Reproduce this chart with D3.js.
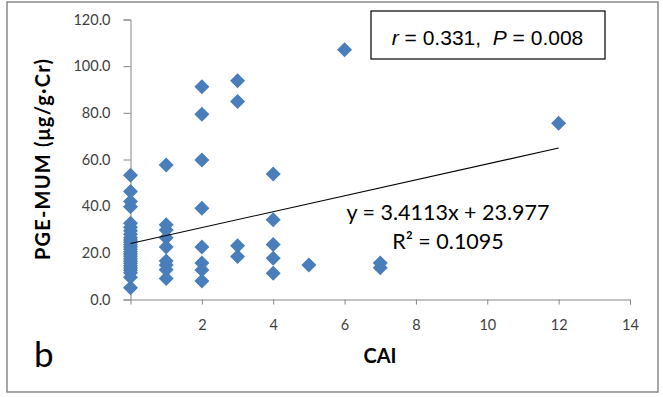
<!DOCTYPE html>
<html><head><meta charset="utf-8">
<script src="https://cdn.jsdelivr.net/npm/d3@7"></script>
<style>body{margin:0;background:#fff}</style>
</head><body><svg id="c" width="663" height="397"></svg>
<script>
// CAI (x) and PGE-MUM (y) values
const caiValues = [
  0,0,0,0,0,0,0,0,0,0,0,0,0,0,0,0,0,0,0,0,0,0,0,0,0,0,
  1,1,1,1,1,1,1,1,1,
  2,2,2,2,2,2,2,2,
  3,3,3,3,
  4,4,4,4,4,
  5,6,7,7,12
];
const pgeValues = [
  53.3,46.3,42.0,39.8,32.7,31.0,29.5,28.0,26.5,25.5,24.5,23.5,22.5,21.5,20.5,19.5,18.5,17.5,16.5,15.5,14.5,13.5,12.5,11.5,9.5,5.0,
  57.6,32.0,29.8,26.5,22.5,16.5,14.8,12.8,9.0,
  91.2,79.4,59.8,39.1,22.5,15.6,12.6,7.9,
  93.8,84.9,23.0,18.4,
  53.8,34.2,23.6,17.7,11.2,
  14.8,107.0,15.6,13.6,75.5
];
const xTicks = [2,4,6,8,10,12,14];
const yTicks = [0,20,40,60,80,100,120];
const slope = 3.4113, intercept = 23.977;
const eqText = "y = 3.4113x + 23.977";
const r2Text = "R\u00b2 = 0.1095";

const svg = d3.select("#c");
svg.append("rect").attr("x",7).attr("y",2).attr("width",651).attr("height",390)
  .attr("fill","#fff").attr("stroke","#898989").attr("stroke-width",1.5);

const x = d3.scaleLinear().domain([0,14]).range([130.5,630]);
const y = d3.scaleLinear().domain([0,120]).range([299.5,19.5]);

const font = "Lato, 'Open Sans', sans-serif";
const tickColor = "#404040";

// y axis
const ya = svg.append("g").attr("transform","translate(130.5,0)")
  .call(d3.axisLeft(y).tickValues(yTicks).tickSize(7).tickFormat(d3.format(".1f")));
ya.select(".domain").attr("stroke","#868686");
ya.selectAll(".tick line").attr("stroke","#868686");
ya.selectAll("text").attr("font-family",font).attr("font-size",14.5).attr("fill",tickColor).attr("x",-20);

// x axis
const xa = svg.append("g").attr("transform","translate(0,299.5)")
  .call(d3.axisBottom(x).tickValues(xTicks).tickSize(5).tickFormat(d3.format("d")));
xa.select(".domain").attr("stroke","#868686");
xa.selectAll(".tick line").attr("stroke","#868686");
xa.selectAll("text").attr("font-family",font).attr("font-size",14.5).attr("fill",tickColor).attr("y",20);

// points
const pts = caiValues.map((c,i)=>({c, v:pgeValues[i]}));
svg.append("g").selectAll("path").data(pts).join("path")
  .attr("d","M0,-7.5L7.5,0L0,7.5L-7.5,0Z")
  .attr("transform",d=>`translate(${x(d.c)},${y(d.v)})`)
  .attr("fill","#4a7ebb");

// trend line
svg.append("line")
  .attr("x1",x(0)).attr("y1",y(intercept))
  .attr("x2",x(12)).attr("y2",y(intercept+slope*12))
  .attr("stroke","#000").attr("stroke-width",1.1);

// equation
svg.append("text").attr("x",448).attr("y",219.5).attr("text-anchor","middle")
  .attr("font-family",font).attr("font-size",21.5).attr("fill","#000").text(eqText);
svg.append("text").attr("x",448).attr("y",248.5).attr("text-anchor","middle")
  .attr("font-family",font).attr("font-size",21.5).attr("fill","#000").text(r2Text);

// stats box
svg.append("rect").attr("x",371).attr("y",11).attr("width",234).attr("height",48)
  .attr("fill","#fff").attr("stroke","#000").attr("stroke-width",1.2);
const t = svg.append("text").attr("x",487.5).attr("y",45).attr("text-anchor","middle")
  .attr("font-family","'Liberation Sans', Arial, sans-serif").attr("font-size",21).attr("fill","#000")
  .attr("xml:space","preserve").style("white-space","pre");
t.append("tspan").attr("font-style","italic").text("r");
t.append("tspan").text(" = 0.331,  ");
t.append("tspan").attr("font-style","italic").text("P");
t.append("tspan").text(" = 0.008");

// axis titles
svg.append("text").attr("x",380).attr("y",363).attr("text-anchor","middle")
  .attr("font-family",font).attr("font-weight","bold").attr("font-size",20).attr("fill","#000").text("CAI");
svg.append("text").attr("transform","translate(50,159) rotate(-90)").attr("text-anchor","middle")
  .attr("font-family",font).attr("font-weight","bold").attr("font-size",20).attr("letter-spacing",1.2)
  .attr("fill","#000").text("PGE-MUM (\u03bcg/g\u00b7Cr)");

// panel letter
svg.append("text").attr("x",34).attr("y",367)
  .attr("font-family",font).attr("font-size",35).attr("fill","#000").text("b");
</script></body></html>
